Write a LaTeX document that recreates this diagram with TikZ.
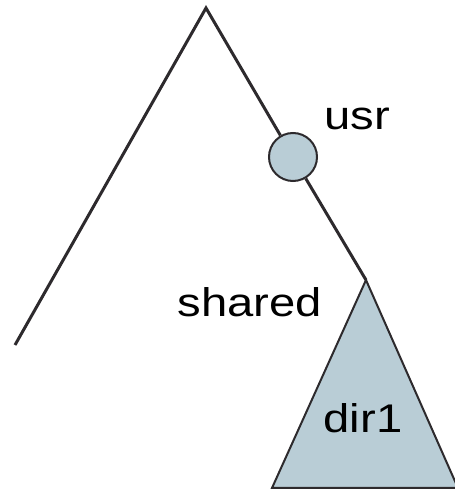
\documentclass[tikz,border=0pt]{standalone}
\usepackage{fontspec}
\setmainfont{Liberation Sans}
\definecolor{nodefill}{RGB}{185,205,214}
\definecolor{edgecol}{RGB}{45,42,45}
\tikzset{
  edge/.style={draw=edgecol, line width=3pt},
  label/.style={font=\fontsize{40}{40}\selectfont, xscale=1.18, anchor=base, inner sep=0pt},
  dirnode/.style={draw=edgecol, line width=2pt, circle, fill=nodefill, minimum size=48pt, inner sep=0pt},
  subtree/.style={draw=edgecol, line width=2pt, fill=nodefill, line join=miter}
}
\begin{document}
\begin{tikzpicture}[x=1pt,y=1pt]
\useasboundingbox (0,0) rectangle (455,491);
\coordinate (root) at (206,483);
\coordinate (left) at (15,146);
\node[dirnode] (usr) at (293,334) {};
\coordinate (shared) at (366,211);
\coordinate (dirl) at (272,3);
\coordinate (dirr) at (458,3);
\draw[edge] (left) -- (root) -- (usr);
\draw[edge] (usr) -- (shared);
\filldraw[subtree] (shared) -- (dirl) -- (dirr) -- cycle;
\node[label] (usrlab) at (357,361) {usr};
\node[label] (sharedlab) at (250,174) {shared};
\node[label] (dirlab) at (363,59) {dir1};
\end{tikzpicture}
\end{document}
